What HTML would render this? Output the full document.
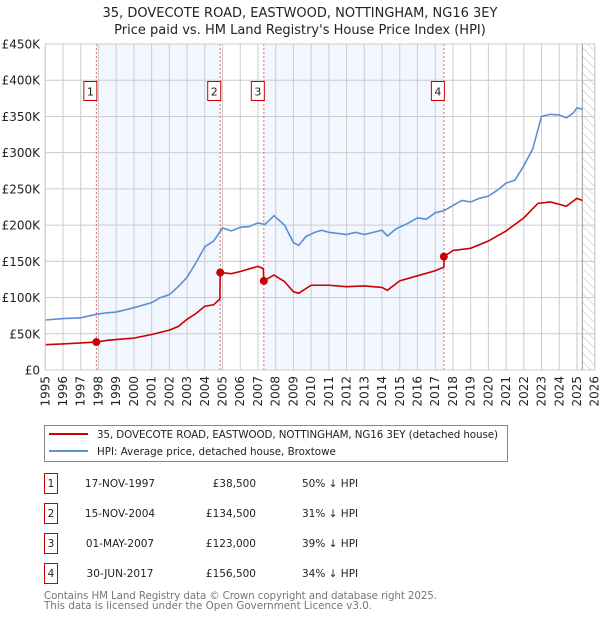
<!DOCTYPE html>
<html><head><meta charset="utf-8"><style>
body{margin:0;background:#fff;width:600px;height:620px;overflow:hidden;font-family:"DejaVu Sans","Liberation Sans",sans-serif}
svg text{font-family:"DejaVu Sans","Liberation Sans",sans-serif}
</style></head><body>
<svg id="c" width="600" height="620" xmlns="http://www.w3.org/2000/svg">
<defs><pattern id="hatch" width="6" height="6" patternUnits="userSpaceOnUse" patternTransform="rotate(-45)"><line x1="0" y1="0" x2="0" y2="6" stroke="#bbb" stroke-width="1"/></pattern></defs>
<text x="300" y="17" text-anchor="middle" font-size="13" fill="#222">35, DOVECOTE ROAD, EASTWOOD, NOTTINGHAM, NG16 3EY</text>
<text x="300" y="34" text-anchor="middle" font-size="13" fill="#222">Price paid vs. HM Land Registry's House Price Index (HPI)</text>
<g id="plot"></g>
<g>
<rect x="44.5" y="425.5" width="463" height="36" fill="#fff" stroke="#888"/>
<line x1="49" y1="434" x2="88" y2="434" stroke="#cc0000" stroke-width="2"/>
<text x="97" y="438" font-size="10.3" fill="#222" textLength="401">35, DOVECOTE ROAD, EASTWOOD, NOTTINGHAM, NG16 3EY (detached house)</text>
<line x1="49" y1="451" x2="88" y2="451" stroke="#5b8fd4" stroke-width="2"/>
<text x="97" y="455" font-size="10.3" fill="#222">HPI: Average price, detached house, Broxtowe</text>
</g>
<g id="tbl" font-size="10.5" fill="#222"></g>
<text x="44" y="599" font-size="10.3" fill="#777" textLength="393">Contains HM Land Registry data © Crown copyright and database right 2025.</text>
<text x="44" y="609" font-size="10.3" fill="#777">This data is licensed under the Open Government Licence v3.0.</text>
</svg>
<script>
const hpiDates=[1995.0,1996,1997,1997.9,1998.5,1999,2000,2001,2001.5,2002,2002.5,2003,2003.5,2004,2004.5,2005,2005.5,2006,2006.5,2007,2007.4,2007.9,2008.5,2009,2009.3,2009.7,2010.2,2010.6,2011,2012,2012.5,2013,2013.5,2014,2014.3,2014.8,2015.5,2016,2016.5,2017,2017.5,2018,2018.5,2019,2019.5,2020,2020.5,2021,2021.5,2022,2022.5,2023,2023.5,2024,2024.4,2024.8,2025.0,2025.3];
const hpiValues=[69,71,72,77,79,80,86,93,100,104,115,128,148,170,178,196,192,197,198,203,201,213,200,176,172,184,190,193,190,187,190,187,190,193,185,195,203,210,208,217,220,227,234,232,237,240,248,258,262,282,305,350,353,352,348,355,362,360];
const redDates=[1995,1996,1997.88,1998.5,2000,2001,2002,2002.5,2003,2003.5,2004,2004.5,2004.85,2004.87,2005.5,2006,2007.0,2007.3,2007.33,2007.9,2008.5,2009,2009.3,2010,2011,2012,2013,2014,2014.3,2015,2016,2017,2017.49,2017.5,2018,2019,2020,2021,2022,2022.8,2023.5,2024.4,2025,2025.3];
const redValues=[35,36,38.5,41,44,49,55,60,70,78,88,90,98,134.5,133,136,143,140,123,131,122,108,106,117,117,115,116,114,110,123,130,137,142,156.5,165,168,178,192,210,230,232,226,237,234];
const saleDates=[1997.88,2004.87,2007.33,2017.49];
const saleValues=[38.5,134.5,123,156.5];
const saleLabels=["1","2","3","4"];
const saleDateText=["17-NOV-1997","15-NOV-2004","01-MAY-2007","30-JUN-2017"];
const salePriceText=["£38,500","£134,500","£123,000","£156,500"];
const salePctText=["50% ↓ HPI","31% ↓ HPI","39% ↓ HPI","34% ↓ HPI"];
const yTicks=[0,50,100,150,200,250,300,350,400,450];
const xYears=[];for(let y=1995;y<=2026;y++)xYears.push(y);
const X0=45.3,X1=594.7,Y0=370,Y1=44;
const xs=t=>X0+(t-1995)/31*(X1-X0);
const ys=v=>Y0-v/450*(Y0-Y1);
const NS="http://www.w3.org/2000/svg";
const plot=document.getElementById('plot');
function mk(tag,attrs,parent){const e=document.createElementNS(NS,tag);for(const k in attrs)e.setAttribute(k,attrs[k]);(parent||plot).appendChild(e);return e;}
let s=mk('rect',{x:xs(saleDates[0]),y:Y1,width:xs(saleDates[1])-xs(saleDates[0]),height:Y0-Y1,fill:'#f2f6fe'});


s=mk('rect',{x:xs(saleDates[2]),y:Y1,width:xs(saleDates[3])-xs(saleDates[2]),height:Y0-Y1,fill:'#f2f6fe'});


s=mk('rect',{x:xs(2025.3),y:Y1,width:X1-xs(2025.3),height:Y0-Y1,fill:'url(#hatch)'});


xYears.forEach(y=>{const l=mk('line',{x1:xs(y),x2:xs(y),y1:Y1,y2:Y0,stroke:'#ccc','stroke-width':1});


const t=mk('text',{x:0,y:0,'font-size':12,fill:'#222','text-anchor':'end',transform:`translate(${xs(y)+4},${Y0+6}) rotate(-90)`});t.textContent=y;

});
yTicks.forEach(v=>{const l=mk('line',{x1:X0,x2:X1,y1:ys(v),y2:ys(v),stroke:'#ccc','stroke-width':1});


const t=mk('text',{x:40,y:ys(v)+4.5,'font-size':12,fill:'#222','text-anchor':'end'});t.textContent=v===0?'£0':'£'+v+'K';

});
const ln=mk('line',{x1:xs(2025.3),x2:xs(2025.3),y1:Y1,y2:Y0,stroke:'#999'});


saleDates.forEach((d,i)=>{const l=mk('line',{x1:xs(d),x2:xs(d),y1:Y1,y2:Y0,stroke:'#e66','stroke-width':1,'stroke-dasharray':'2,2'});


const r=mk('rect',{x:xs(d)-12.5,y:81.5,width:13,height:19,fill:'#fff',stroke:'#cc0000'});


const t=mk('text',{x:xs(d)-6,y:95.5,'font-size':11,fill:'#222','text-anchor':'middle'});t.textContent=saleLabels[i];

});
const hp=mk('polyline',{points:hpiDates.map((d,i)=>xs(d)+','+ys(hpiValues[i])).join(' '),fill:'none',stroke:'#5b8fd4','stroke-width':1.6});


const rp=mk('polyline',{points:redDates.map((d,i)=>xs(d)+','+ys(redValues[i])).join(' '),fill:'none',stroke:'#cc0000','stroke-width':1.6});


saleDates.forEach((d,i)=>{const c=mk('circle',{cx:xs(d),cy:ys(saleValues[i]),r:4,fill:'#cc0000'});

});
const fr=mk('rect',{x:X0,y:Y1,width:X1-X0,height:Y0-Y1,fill:'none',stroke:'#ccc'});


const tbl=document.getElementById('tbl');
saleLabels.forEach((lab,i)=>{const cy=483+i*30;
const r=mk('rect',{x:44.5,y:cy-9.5,width:13,height:20,fill:'#fff',stroke:'#cc0000'},tbl);


let t=mk('text',{x:51,y:cy+4,'text-anchor':'middle'},tbl);t.textContent=lab;


t=mk('text',{x:120,y:cy+4,'text-anchor':'middle'},tbl);t.textContent=saleDateText[i];


t=mk('text',{x:256,y:cy+4,'text-anchor':'end'},tbl);t.textContent=salePriceText[i];


t=mk('text',{x:302,y:cy+4},tbl);t.textContent=salePctText[i];

});
</script>
</body></html>
